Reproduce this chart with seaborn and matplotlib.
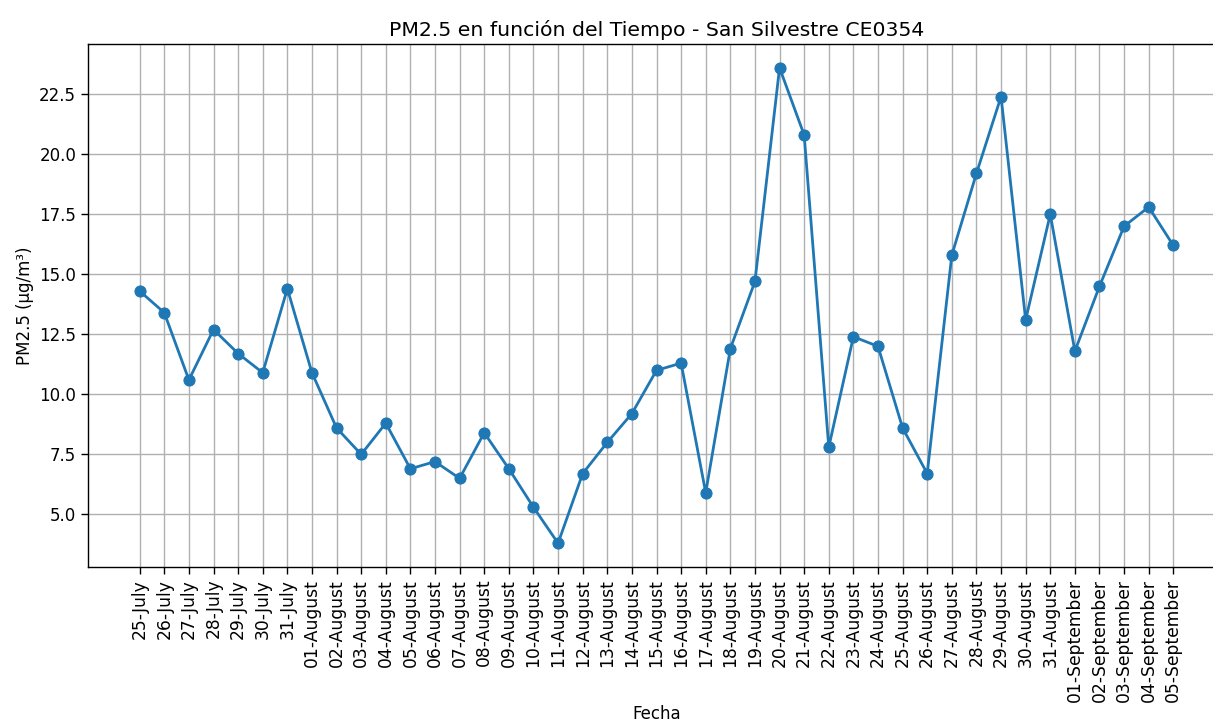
import matplotlib
matplotlib.use("Agg")
import matplotlib.pyplot as plt
import seaborn as sns
import pandas as pd

fechas = [
    "25-July", "26-July", "27-July", "28-July", "29-July", "30-July", "31-July",
    "01-August", "02-August", "03-August", "04-August", "05-August", "06-August",
    "07-August", "08-August", "09-August", "10-August", "11-August", "12-August",
    "13-August", "14-August", "15-August", "16-August", "17-August", "18-August",
    "19-August", "20-August", "21-August", "22-August", "23-August", "24-August",
    "25-August", "26-August", "27-August", "28-August", "29-August", "30-August",
    "31-August", "01-September", "02-September", "03-September", "04-September",
    "05-September",
]
pm25 = [
    14.3, 13.4, 10.6, 12.7, 11.7, 10.9, 14.4,
    10.9, 8.6, 7.5, 8.8, 6.9, 7.2,
    6.5, 8.4, 6.9, 5.3, 3.8, 6.7,
    8.0, 9.2, 11.0, 11.3, 5.9, 11.9,
    14.7, 23.6, 20.8, 7.8, 12.4, 12.0,
    8.6, 6.7, 15.8, 19.2, 22.4, 13.1,
    17.5, 11.8, 14.5, 17.0, 17.8,
    16.2,
]

df = pd.DataFrame({"Fecha": fechas, "PM25": pm25})

plt.rcParams.update({
    "font.family": ["DejaVu Sans"],
    "text.color": "black",
    "axes.labelcolor": "black",
    "xtick.color": "black",
    "ytick.color": "black",
    "axes.edgecolor": "black",
    "axes.facecolor": "white",
    "figure.facecolor": "white",
})

W, H = 1213, 726
fig = plt.figure(figsize=(W / 100, H / 100), dpi=100)
ax = fig.add_axes([88 / W, (H - 567) / H, (1225 - 88) / W, (567 - 44) / H])

sns.lineplot(data=df, x="Fecha", y="PM25", sort=False, marker="o",
             markersize=8, linewidth=2, color="#1f77b4",
             markeredgecolor="#1f77b4", ax=ax)

ax.grid(True, color="#b0b0b0", linewidth=1)
ax.set_axisbelow(True)
ax.set_title("PM2.5 en función del Tiempo - San Silvestre CE0354", fontsize=14.7)
ax.set_xlabel("Fecha", fontsize=12, labelpad=2)
ax.set_ylabel("PM2.5 (µg/m³)", fontsize=12)
ax.tick_params(axis="x", labelrotation=90, labelsize=12.3, length=5, width=1)
ax.tick_params(axis="y", labelsize=12, length=5, width=1)
ax.margins(x=0.05, y=0.05)
for s in ax.spines.values():
    s.set_color("black")
    s.set_linewidth(1)

fig.savefig("out.png", dpi=100)
